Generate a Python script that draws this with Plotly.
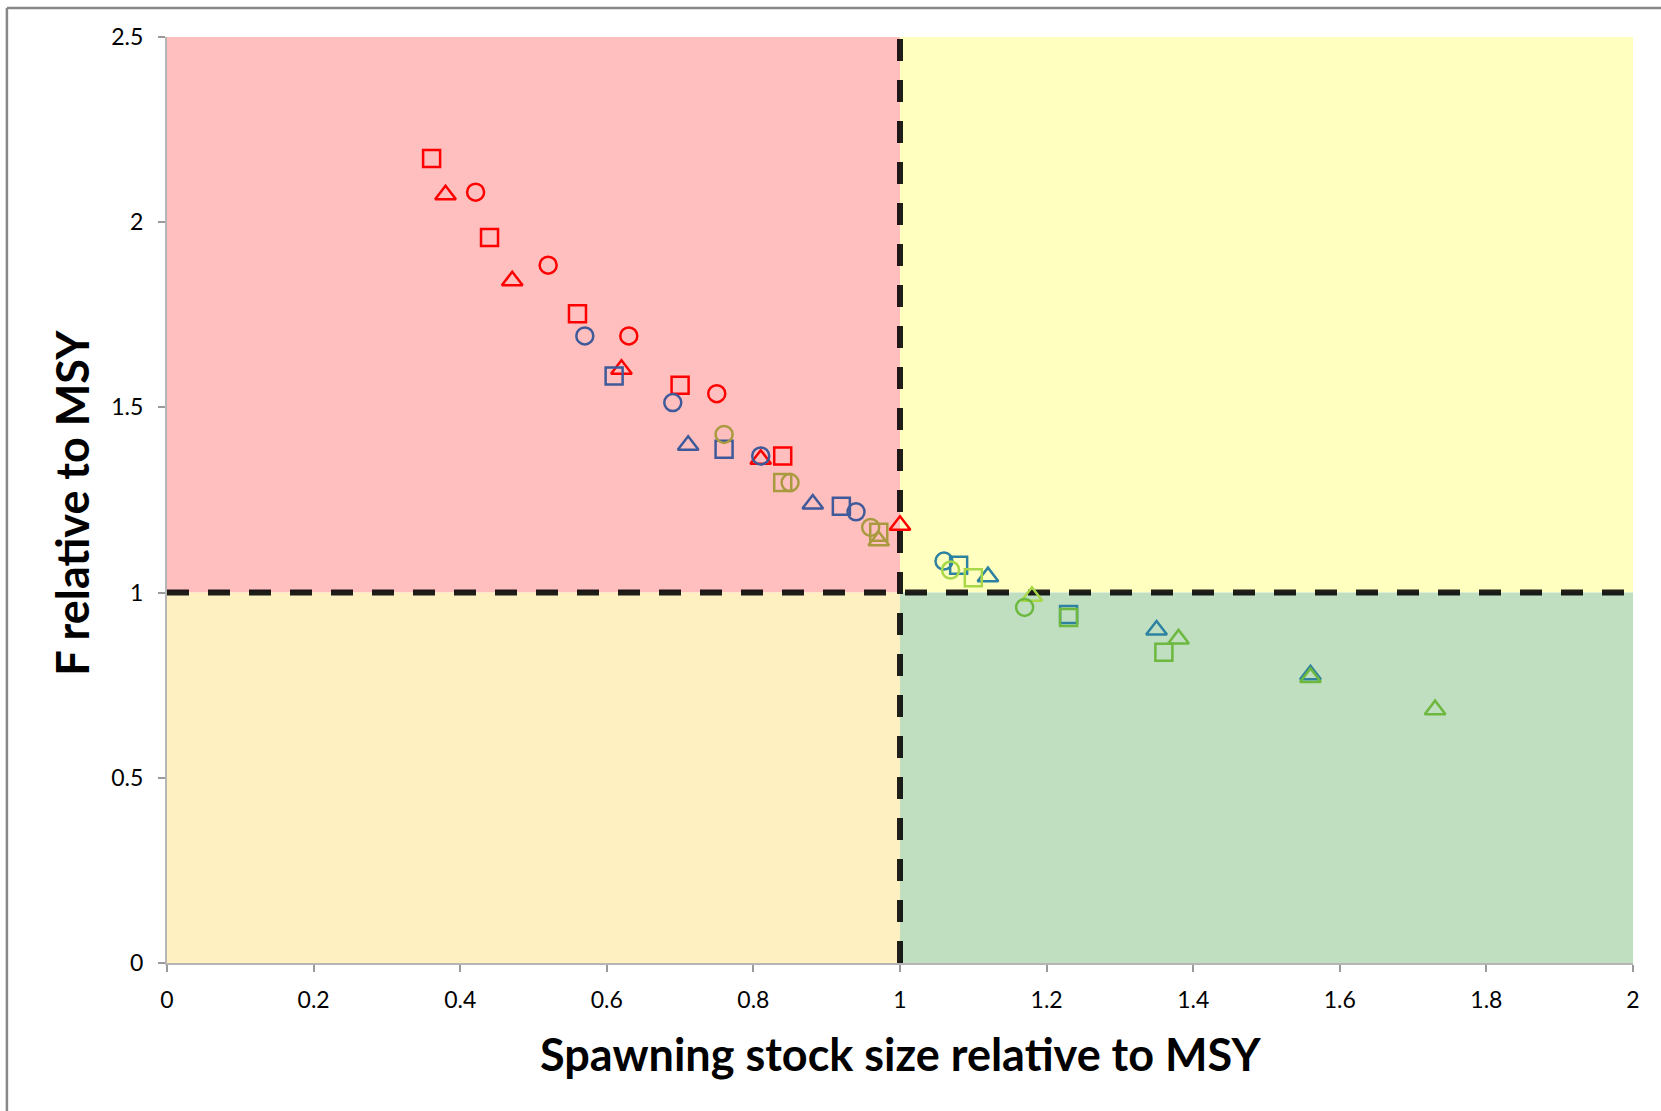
import plotly.graph_objects as go

# ---- data (x = spawning stock size / MSY, y = F / MSY) ----
red_sq_x = [0.361, 0.440, 0.560, 0.700, 0.840]
red_sq_y = [2.172, 1.959, 1.753, 1.560, 1.369]
red_tri_x = [0.380, 0.471, 0.620, 0.810, 1.000]
red_tri_y = [2.074, 1.842, 1.603, 1.360, 1.182]
red_ci_x = [0.421, 0.520, 0.630, 0.750]
red_ci_y = [2.081, 1.884, 1.693, 1.537]

blue_ci_x = [0.570, 0.690, 0.810, 0.940]
blue_ci_y = [1.693, 1.513, 1.369, 1.218]
blue_sq_x = [0.610, 0.760, 0.920]
blue_sq_y = [1.585, 1.387, 1.233]
blue_tri_x = [0.711, 0.881]
blue_tri_y = [1.398, 1.239]

olive_ci_x = [0.760, 0.850, 0.960]
olive_ci_y = [1.427, 1.297, 1.176]
olive_sq_x = [0.840, 0.971]
olive_sq_y = [1.297, 1.163]
olive_tri_x = [0.971]
olive_tri_y = [1.140]

teal_ci_x = [1.060]
teal_ci_y = [1.085]
teal_sq_x = [1.080, 1.230]
teal_sq_y = [1.074, 0.941]
teal_tri_x = [1.120, 1.350, 1.560]
teal_tri_y = [1.043, 0.899, 0.778]

lime_ci_x = [1.069]
lime_ci_y = [1.061]
lime_sq_x = [1.100]
lime_sq_y = [1.040]
lime_tri_x = [1.180]
lime_tri_y = [0.990]

green_ci_x = [1.170]
green_ci_y = [0.960]
green_sq_x = [1.230, 1.360]
green_sq_y = [0.933, 0.839]
green_tri_x = [1.380, 1.560, 1.730]
green_tri_y = [0.875, 0.771, 0.684]

x_ticks = [0, 0.2, 0.4, 0.6, 0.8, 1, 1.2, 1.4, 1.6, 1.8, 2]
y_ticks = [0, 0.5, 1, 1.5, 2, 2.5]
x_ticktext = ["0", "0.2", "0.4", "0.6", "0.8", "1", "1.2", "1.4", "1.6", "1.8", "2"]
y_ticktext = ["0", "0.5", "1", "1.5", "2", "2.5"]

RED = "#FF0000"
BLUE = "#3F5A9A"
OLIVE = "#A99A40"
TEAL = "#2C82A0"
LIME = "#A8D848"
GREEN = "#6DB83F"

FONT = "Lato"

SQ, TRI, CI = 17, 18, 17

series = [
    (red_sq_x, red_sq_y, RED, "square-open", SQ),
    (red_tri_x, red_tri_y, RED, "triangle-up-open", TRI),
    (red_ci_x, red_ci_y, RED, "circle-open", CI),
    (blue_ci_x, blue_ci_y, BLUE, "circle-open", CI),
    (blue_sq_x, blue_sq_y, BLUE, "square-open", SQ),
    (blue_tri_x, blue_tri_y, BLUE, "triangle-up-open", TRI),
    (olive_ci_x, olive_ci_y, OLIVE, "circle-open", CI),
    (olive_sq_x, olive_sq_y, OLIVE, "square-open", SQ),
    (olive_tri_x, olive_tri_y, OLIVE, "triangle-up-open", TRI),
    (teal_ci_x, teal_ci_y, TEAL, "circle-open", CI),
    (teal_sq_x, teal_sq_y, TEAL, "square-open", SQ),
    (teal_tri_x, teal_tri_y, TEAL, "triangle-up-open", TRI),
    (lime_ci_x, lime_ci_y, LIME, "circle-open", CI),
    (lime_sq_x, lime_sq_y, LIME, "square-open", SQ),
    (lime_tri_x, lime_tri_y, LIME, "triangle-up-open", TRI),
    (green_ci_x, green_ci_y, GREEN, "circle-open", CI),
    (green_sq_x, green_sq_y, GREEN, "square-open", SQ),
    (green_tri_x, green_tri_y, GREEN, "triangle-up-open", TRI),
]

fig = go.Figure()

# reference lines at MSY (x = 1, y = 1)
DASH_COLOR = "rgba(0,0,0,0.88)"
fig.add_trace(go.Scatter(x=[0, 2], y=[1, 1], mode="lines",
                         line=dict(color=DASH_COLOR, width=6, dash="22px,19px"),
                         hoverinfo="skip", showlegend=False))
fig.add_trace(go.Scatter(x=[1, 1], y=[0, 2.5], mode="lines",
                         line=dict(color=DASH_COLOR, width=6, dash="22px,19px"),
                         hoverinfo="skip", showlegend=False))

for xs, ys, col, sym, sz in series:
    fig.add_trace(go.Scatter(
        x=xs, y=ys, mode="markers", showlegend=False,
        marker=dict(symbol=sym, size=sz, color=col, line=dict(width=2.5, color=col)),
    ))

# background zones
zones = [
    (0, 1, 1, 2.5, "#FFBFBF"),
    (1, 2, 1, 2.5, "#FFFFC0"),
    (0, 1, 0, 1, "#FFF0C2"),
    (1, 2, 0, 1, "#C0DFC0"),
]
for x0, x1, y0, y1, c in zones:
    fig.add_shape(type="rect", xref="x", yref="y", x0=x0, x1=x1, y0=y0, y1=y1,
                  fillcolor=c, line=dict(width=0), layer="below")

# outer frame (top and left edges visible)
fig.add_shape(type="line", xref="paper", yref="paper", x0=-0.1092, x1=1.1, y0=1.0313, y1=1.0313,
              line=dict(color="#888888", width=2.5))
fig.add_shape(type="line", xref="paper", yref="paper", x0=-0.1092, x1=-0.1092, y0=1.0313, y1=-0.2,
              line=dict(color="#888888", width=2.5))

# axis titles
fig.add_annotation(text="<b>Spawning stock size relative to MSY</b>", xref="paper", yref="paper",
                   x=0.5, y=-0.098, xanchor="center", yanchor="middle", showarrow=False,
                   font=dict(family=FONT, size=45, color="black"))
fig.add_annotation(text="<b>F relative to MSY</b>", xref="paper", yref="paper",
                   x=-0.0648, y=0.497, xanchor="center", yanchor="middle", showarrow=False,
                   textangle=-90, font=dict(family=FONT, size=45, color="black"))

axis_line = "rgba(90,90,90,0.45)"
fig.update_xaxes(range=[0, 2], tickvals=x_ticks, ticktext=x_ticktext, showgrid=False, zeroline=False,
                 showline=True, linecolor=axis_line, linewidth=2, ticks="outside", ticklen=7,
                 tickcolor="#9A9A9A", tickwidth=2, ticklabelstandoff=8,
                 tickfont=dict(family=FONT, size=23, color="black"))
fig.update_yaxes(range=[0, 2.5], tickvals=y_ticks, ticktext=y_ticktext, showgrid=False, zeroline=False,
                 showline=True, linecolor=axis_line, linewidth=2, ticks="outside", ticklen=7,
                 tickcolor="#9A9A9A", tickwidth=2, ticklabelstandoff=10,
                 tickfont=dict(family=FONT, size=23, color="black"))

fig.update_layout(width=1661, height=1111, margin=dict(l=167, r=28, t=37, b=148),
                  plot_bgcolor="white", paper_bgcolor="white")

fig.write_html("out.html", config={"displayModeBar": False},
               post_script="document.body.style.margin='0';")
